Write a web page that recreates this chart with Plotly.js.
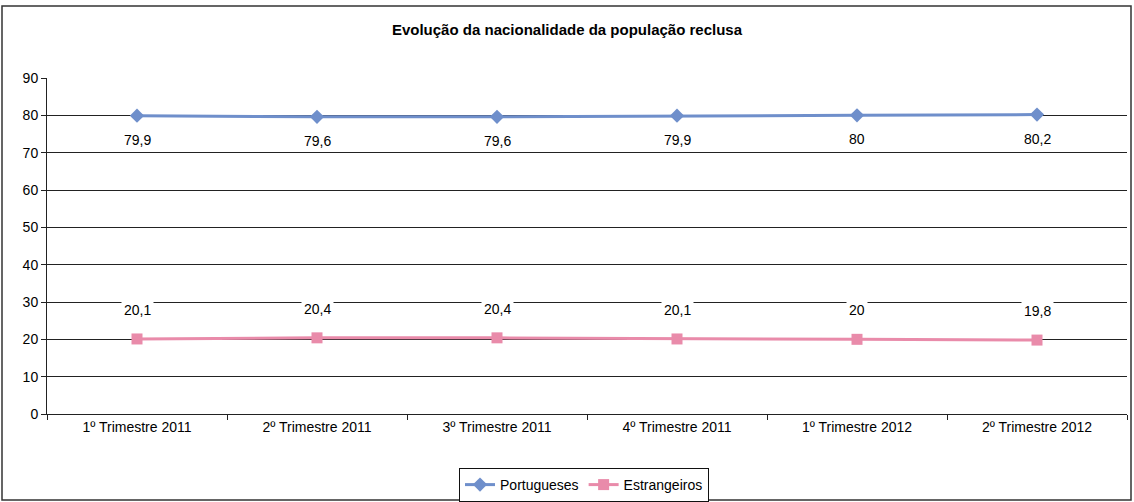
<!DOCTYPE html>
<html><head><meta charset="utf-8">
<script src="https://cdn.plot.ly/plotly-3.0.1.min.js"></script>
<style>body{margin:0;background:#fff}#c{width:1134px;height:502px}</style>
</head><body><div id="c"></div>
<script>
const categories = ["1º Trimestre 2011","2º Trimestre 2011","3º Trimestre 2011","4º Trimestre 2011","1º Trimestre 2012","2º Trimestre 2012"];
const portugueses = [79.9, 79.6, 79.6, 79.9, 80, 80.2];
const estrangeiros = [20.1, 20.4, 20.4, 20.1, 20, 19.8];
const seriesNames = ["Portugueses", "Estrangeiros"];

const FONT = '"Liberation Sans", Arial, sans-serif';
const fmt = v => String(v).replace('.', ',');

const traces = [
  {x: categories, y: portugueses, name: seriesNames[0], type: 'scatter', mode: 'lines+markers',
   line: {color: '#6F8FCB', width: 3}, marker: {symbol: 'diamond', size: 11, color: '#6F8FCB'}},
  {x: categories, y: estrangeiros, name: seriesNames[1], type: 'scatter', mode: 'lines+markers',
   line: {color: '#E98BAA', width: 3}, marker: {symbol: 'square', size: 11, color: '#E98BAA'}}
];

const annotations = [];
categories.forEach((c, i) => {
  annotations.push({x: c, y: portugueses[i], text: fmt(portugueses[i]), showarrow: false,
    yshift: -24, bgcolor: '#fff', borderpad: 2, font: {family: FONT, size: 14, color: '#000'}});
  annotations.push({x: c, y: estrangeiros[i], text: fmt(estrangeiros[i]), showarrow: false,
    yshift: 29, bgcolor: '#fff', borderpad: 2, font: {family: FONT, size: 14, color: '#000'}});
});

const layout = {
  width: 1134, height: 502,
  margin: {l: 47, r: 7, t: 78, b: 88},
  paper_bgcolor: '#fff', plot_bgcolor: '#fff',
  title: {text: '<b>Evolução da nacionalidade da população reclusa</b>', x: 0.5, xanchor: 'center',
    y: 0.94, yanchor: 'middle', font: {family: FONT, size: 15, color: '#000'}},
  xaxis: {type: 'category', range: [-0.5, 5.5], autorange: false, showgrid: false, showline: true,
    linecolor: '#222', linewidth: 1, ticks: 'outside', ticklen: 5, tickcolor: '#222', tickson: 'boundaries',
    tickfont: {family: FONT, size: 14, color: '#000'}, zeroline: false, fixedrange: true, automargin: false},
  yaxis: {range: [0, 90], autorange: false, dtick: 10, showgrid: true, gridcolor: '#222', gridwidth: 1,
    showline: true, linecolor: '#222', linewidth: 1, ticks: 'outside', ticklen: 5, tickcolor: '#222',
    tickfont: {family: FONT, size: 14, color: '#000'}, zeroline: false, fixedrange: true, automargin: false},
  showlegend: true,
  legend: {orientation: 'h', xref: 'container', yref: 'container', x: 0.515, xanchor: 'center',
    y: 1 - 468/502, yanchor: 'top', itemwidth: 30, tracegroupgap: 0,
    bordercolor: '#111', borderwidth: 1, bgcolor: '#fff',
    font: {family: FONT, size: 14, color: '#000'}},
  annotations: annotations,
  shapes: [{type: 'rect', xref: 'paper', yref: 'paper',
    x0: -45/1080, x1: 1131/1080 - 47/1080, y0: -86/336, y1: 1 + 72/336,
    line: {color: '#333', width: 1.5}, fillcolor: 'rgba(0,0,0,0)'}]
};

Plotly.newPlot('c', traces, layout, {staticPlot: true, displayModeBar: false});
</script></body></html>
